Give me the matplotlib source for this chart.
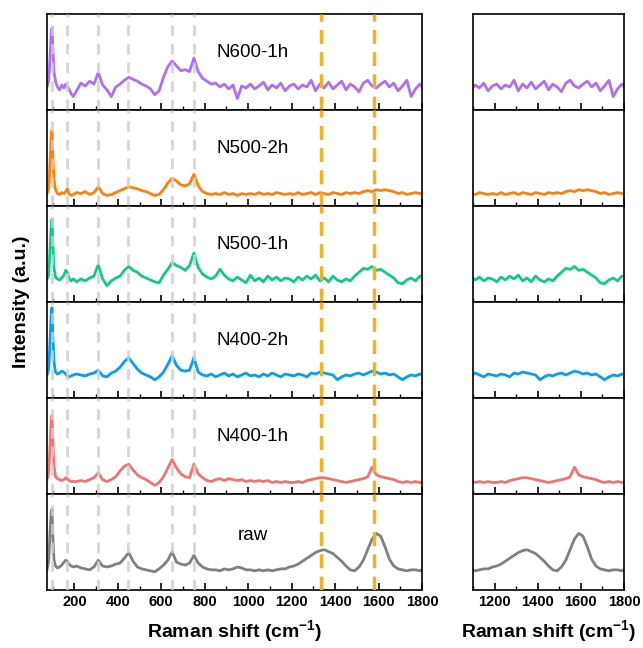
import numpy as np
import matplotlib
matplotlib.use("Agg")
import matplotlib.pyplot as plt
from matplotlib.ticker import MultipleLocator

plt.rcParams['font.family'] = ['Liberation Sans', 'DejaVu Sans']
plt.rcParams['mathtext.fontset'] = 'custom'
plt.rcParams['mathtext.rm'] = 'Liberation Sans'
plt.rcParams['mathtext.bf'] = 'Liberation Sans:bold'
plt.rcParams['mathtext.default'] = 'bf'

# Raman shift sampling (cm-1): dense around the low-wavenumber band, then every 20
shift_head = [74, 82, 88, 93, 97, 101, 106, 113, 122, 132, 142, 152, 160, 167, 175, 185, 195]
shift = np.concatenate([shift_head, np.arange(210, 1800, 20), [1800]])

names = ['N600-1h', 'N500-2h', 'N500-1h', 'N400-2h', 'N400-1h', 'raw']
colors = ['#B06EF2', '#FF800E', '#12C98A', '#0C9CF2', '#F27373', '#808080']

# intensities in arbitrary units (panel height = 100)
n600_1h = [24, 30, 55, 78, 85, 64, 40, 30, 24, 21, 26, 23, 27, 24, 22, 17, 14,
           20, 28, 25, 30, 27, 39, 26, 21, 14, 24,
           27, 31, 34, 32, 30, 27, 25, 22, 16, 20,
           34, 45, 51, 46, 41, 42, 40, 54, 40, 33,
           30, 27, 28, 24, 27, 22, 26, 12, 25, 23,
           27, 22, 25, 29, 21, 26, 23, 28, 20, 25,
           27, 22, 26, 24, 31, 20, 27, 23, 29, 22,
           26, 30, 21, 27, 24, 19, 28, 31, 25, 23,
           27, 30, 24, 28, 20, 25, 31, 14, 22, 27,
           24]
n500_2h = [13, 18, 45, 72, 79, 52, 28, 17, 13, 12, 14, 13, 15, 18, 13, 11, 12,
           14, 13, 15, 12, 14, 20, 13, 11, 12, 14,
           16, 18, 20, 19, 18, 16, 15, 13, 11, 12,
           17, 24, 29, 26, 22, 21, 23, 33, 21, 15,
           13, 12, 13, 12, 14, 12, 13, 11, 13, 12,
           13, 12, 14, 12, 13, 12, 14, 13, 12, 13,
           12, 14, 12, 13, 14, 12, 14, 13, 12, 14,
           13, 12, 14, 13, 14, 13, 15, 16, 15, 17,
           16, 17, 16, 15, 13, 14, 12, 13, 14, 13,
           13]
n500_1h = [24, 28, 55, 78, 86, 60, 36, 26, 24, 23, 25, 28, 33, 31, 25, 22, 24,
           21, 24, 22, 25, 27, 39, 24, 17, 22, 25,
           27, 33, 37, 33, 31, 27, 25, 23, 21, 20,
           28, 34, 41, 38, 36, 33, 38, 51, 36, 29,
           26, 24, 27, 34, 28, 24, 22, 26, 23, 20,
           28, 22, 25, 21, 27, 23, 26, 22, 25, 24,
           21, 26, 23, 27, 24, 28, 22, 25, 21, 27,
           23, 21, 24, 22, 27, 31, 35, 34, 37, 33,
           34, 31, 28, 25, 20, 19, 23, 25, 22, 27,
           26]
n400_2h = [24, 30, 60, 85, 94, 65, 38, 27, 25, 26, 28, 27, 25, 23, 22, 23, 24,
           25, 24, 23, 25, 26, 29, 23, 22, 26, 28,
           32, 38, 42, 36, 30, 26, 24, 22, 19, 22,
           27, 35, 44, 34, 29, 28, 29, 42, 27, 24,
           23, 25, 22, 24, 26, 23, 25, 22, 24, 26,
           23, 24, 22, 25, 23, 26, 24, 22, 25, 24,
           23, 25, 24, 22, 26, 25, 27, 26, 25, 24,
           19, 22, 24, 23, 25, 26, 24, 26, 28, 27,
           25, 26, 24, 25, 22, 19, 22, 24, 23, 25,
           24]
n400_1h = [15, 22, 50, 75, 82, 55, 30, 18, 16, 15, 14, 15, 17, 16, 14, 13, 13,
           13, 14, 13, 15, 17, 22, 15, 13, 15, 18,
           24, 29, 31, 25, 20, 17, 15, 12, 9, 12,
           18, 27, 36, 27, 21, 18, 17, 31, 21, 17,
           14, 13, 15, 16, 14, 16, 15, 14, 15, 13,
           14, 13, 14, 13, 14, 12, 13, 12, 13, 12,
           12, 13, 12, 14, 15, 16, 17, 17, 16, 15,
           14, 13, 12, 13, 14, 15, 16, 18, 28, 20,
           18, 17, 16, 15, 13, 12, 13, 12, 13, 12,
           12]
raw = [21, 30, 60, 80, 84, 55, 32, 25, 23, 24, 26, 29, 31, 30, 27, 25, 24,
       25, 23, 22, 21, 24, 31, 25, 24, 25, 27,
       28, 33, 39, 30, 24, 22, 21, 20, 19, 22,
       26, 31, 40, 29, 27, 26, 28, 36, 28, 24,
       22, 21, 21, 20, 22, 21, 22, 24, 23, 21,
       21, 20, 21, 20, 21, 20, 21, 22, 22, 24,
       25, 27, 30, 33, 36, 39, 41, 42, 40, 38,
       34, 30, 25, 21, 20, 24, 31, 42, 53, 59,
       56, 45, 32, 25, 22, 21, 20, 21, 21, 20,
       21]
spectra = [n600_1h, n500_2h, n500_1h, n400_2h, n400_1h, raw]

# reference band positions (cm-1)
low_bands = [97, 166, 310, 445, 650, 750]
carbon_bands = [1337, 1578]

fig = plt.figure(figsize=(6.43, 6.48), dpi=100)
gs_left = fig.add_gridspec(6, 1, left=0.0731, right=0.6563, top=0.9784, bottom=0.0895, hspace=0)
gs_right = fig.add_gridspec(6, 1, left=0.7356, right=0.9705, top=0.9784, bottom=0.0895, hspace=0)

tick_font = dict(fontsize=10.5, fontweight='bold')

for i, (name, color, y) in enumerate(zip(names, colors, spectra)):
    axl = fig.add_subplot(gs_left[i])
    axr = fig.add_subplot(gs_right[i])

    axl.plot(shift, y, color=color, lw=2.0, zorder=2)
    axr.plot(shift, y, color=color, lw=2.0, zorder=2)

    for b in low_bands:
        axl.axvline(b, color='#CFCFCF', lw=2.2, ls=(0, (3.5, 2.6)), alpha=0.8, zorder=3)
    for b in carbon_bands:
        axl.axvline(b, color='#F0B323', lw=2.5, ls=(0, (4, 2.4)), zorder=3)

    axl.text(0.548, 0.6 if name != 'raw' else 0.57, name, transform=axl.transAxes,
             ha='center', va='center', fontsize=13.5)

    axl.set_xlim(74, 1800)
    axr.set_xlim(1100, 1800)
    for ax in (axl, axr):
        ax.set_ylim(0, 100)
        ax.set_yticks([])
        ax.xaxis.set_major_locator(MultipleLocator(200))
        ax.xaxis.set_minor_locator(MultipleLocator(100))
        ax.tick_params(axis='x', which='major', direction='in', length=5, width=1.2)
        ax.tick_params(axis='x', which='minor', direction='in', length=3, width=1)
        for s in ax.spines.values():
            s.set_linewidth(1.2)
        if i < 5:
            ax.tick_params(axis='x', labelbottom=False)
        else:
            ax.set_xlabel(r'Raman shift (cm$^{-1}$)', fontsize=14, fontweight='bold', labelpad=7)

    if i == 5:
        axl.set_xticks([200, 400, 600, 800, 1000, 1200, 1400, 1600, 1800])
        axl.set_xticklabels(['200', '400', '600', '800', '1000', '1200', '1400', '1600', '1800'], **tick_font)
        axr.set_xticks([1200, 1400, 1600, 1800])
        axr.set_xticklabels(['1200', '1400', '1600', '1800'], **tick_font)

fig.text(0.034, 0.534, 'Intensity (a.u.)', rotation=90, ha='center', va='center',
         fontsize=14, fontweight='bold')

fig.savefig('out.png', dpi=100)
